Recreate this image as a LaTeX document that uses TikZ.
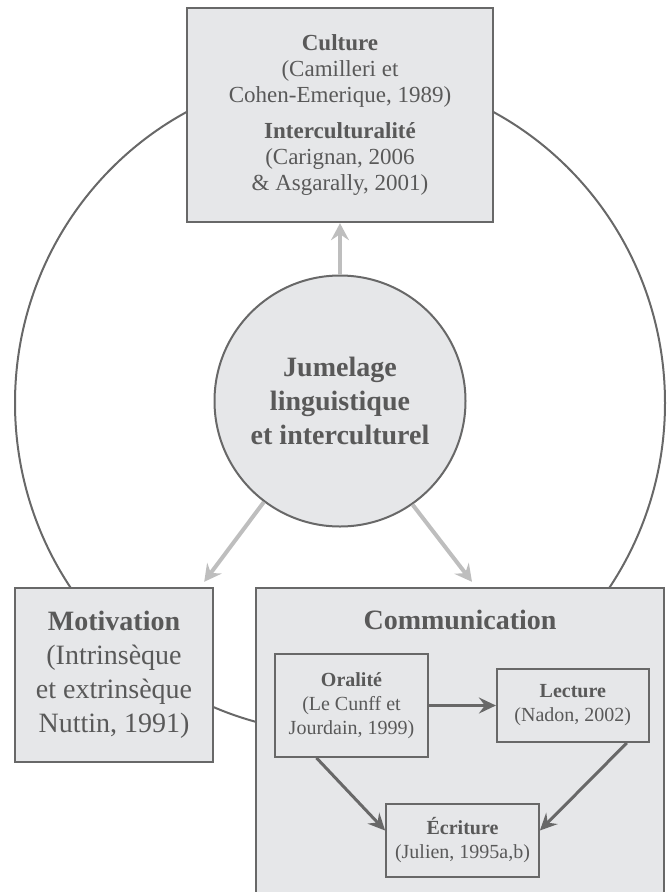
\documentclass[tikz,border=0pt]{standalone}
\usepackage{fontspec}
\setmainfont{Liberation Serif}
\usetikzlibrary{positioning,arrows.meta}

\definecolor{fondgris}{HTML}{E6E7E9}
\definecolor{traitgris}{HTML}{686868}
\definecolor{textegris}{HTML}{595959}
\definecolor{flechegris}{HTML}{BEBEBE}

\begin{document}
\begin{tikzpicture}[x=1pt, y=-1pt,
		b/.style={rectangle, draw=traitgris, fill=fondgris, line width=2.4pt, text=textegris, align=center, inner sep=0pt},
		p/.style={b, line width=1.8pt, font=\fontsize{20}{24}\selectfont},
		r/.style={circle, draw=traitgris, fill=fondgris, line width=2pt, text=textegris, align=center, inner sep=0pt, minimum size=251pt},
		g/.style={-{Stealth[length=17pt, width=18pt, inset=6pt]}, flechegris, line width=4pt},
		f/.style={-{Stealth[length=17pt, width=16pt, inset=6pt]}, traitgris, line width=3pt}]
		\useasboundingbox (0,0) rectangle (667,892);
		\draw[traitgris, line width=2pt] (340,403) ellipse [x radius=325, y radius=330];

		\node[b, minimum width=306pt, minimum height=214pt, font=\fontsize{23}{26}\selectfont] (cul) at (340,115) {\textbf{Culture}\\(Camilleri et\\Cohen-Emerique, 1989)\\[10pt]\textbf{Interculturalité}\\(Carignan, 2006\\\& Asgarally, 2001)};
		\node[r, font=\bfseries\fontsize{28}{34}\selectfont] (jum) at (340,401) {Jumelage\\linguistique\\et interculturel};
		\node[b, minimum width=198pt, minimum height=174pt, font=\fontsize{28}{34}\selectfont] (mot) at (114,675) {\textbf{Motivation}\\(Intrinsèque\\et extrinsèque\\Nuttin, 1991)};
		\node[b, minimum width=408pt, minimum height=310pt] (com) at (460,743) {};
		\node[text=textegris, font=\bfseries\fontsize{28}{32}\selectfont] (comtitre) at (460,620) {Communication};

		\node[p, minimum width=153pt, minimum height=103pt] (ora) at (351.5,705.5) {\textbf{Oralité}\\(Le Cunff et\\Jourdain, 1999)};
		\node[p, minimum width=152pt, minimum height=73pt, right=67pt of ora] (lec) {\textbf{Lecture}\\(Nadon, 2002)};
		\node[p, minimum width=153pt, minimum height=73pt] (ecr) at (462.5,840.5) {\textbf{Écriture}\\(Julien, 1995a,b)};

		\path[g] (jum) edge (cul);
		\path[g] (jum.233) edge ([xshift=-10pt, yshift=5pt]mot.north east);
		\path[g] (jum.305) edge ([xshift=12pt, yshift=5pt]com.north);

		\path[f] (ora) edge (lec);
		\path[f] ([xshift=-35pt]ora.south) edge ([yshift=10pt]ecr.west);
		\path[f] ([xshift=54pt]lec.south) edge ([yshift=10pt]ecr.east);
	\end{tikzpicture}
\end{document}
